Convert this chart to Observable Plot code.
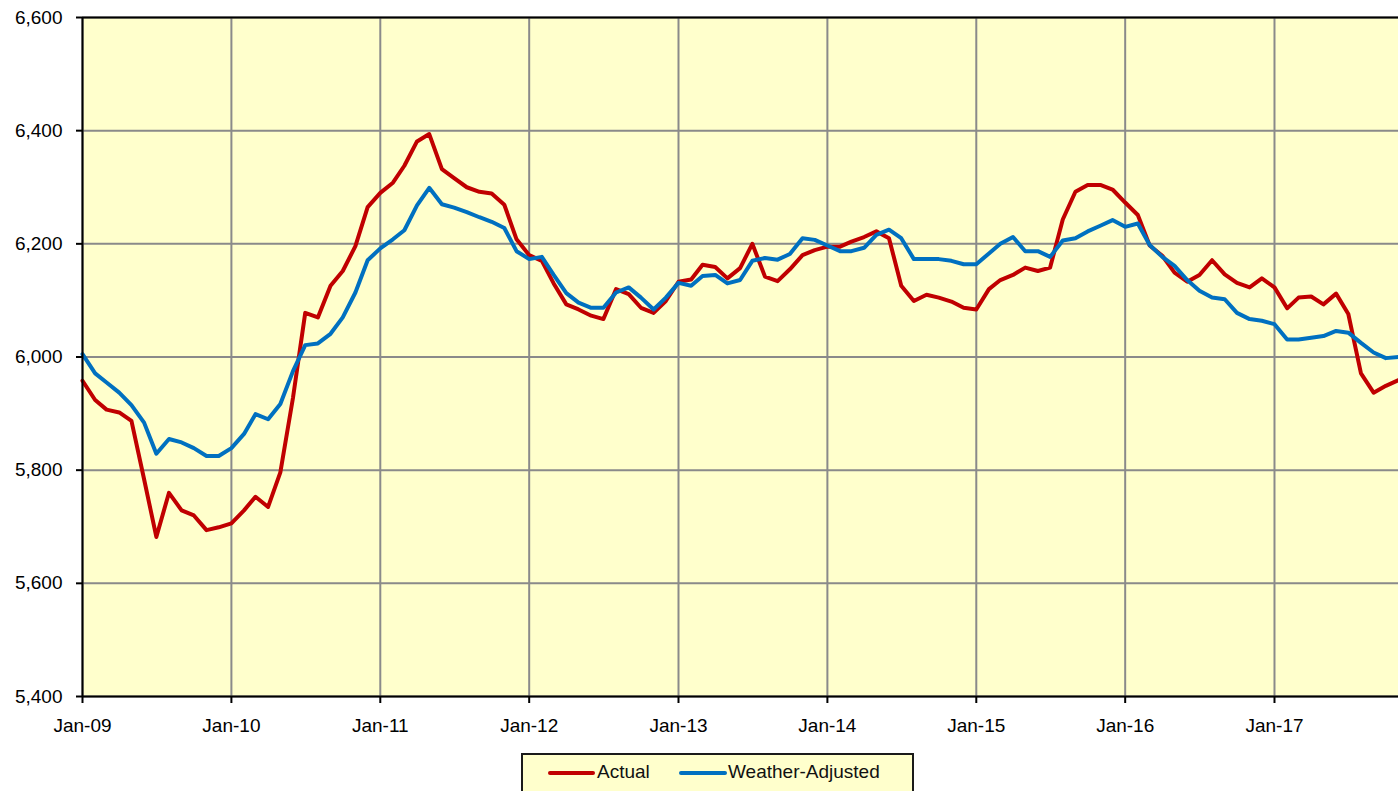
<!DOCTYPE html>
<html><head><meta charset="utf-8">
<script src="https://cdn.jsdelivr.net/npm/d3@7"></script>
<script src="https://cdn.jsdelivr.net/npm/@observablehq/plot@0.6"></script>
<style>
html,body{margin:0;padding:0;background:#fff;overflow:hidden;width:1398px;height:791px;}
#chart{position:absolute;left:0;top:0;}
#legend{position:absolute;left:521px;top:753px;width:393px;height:50px;box-sizing:border-box;border:2px solid #1a1a1a;background:#FFFFCC;font-family:"Liberation Sans",Arial,sans-serif;font-size:19px;color:#111;}
#legend .sw{position:absolute;top:16px;height:4px;border-radius:2px;}
#legend .tx{position:absolute;top:6px;line-height:22px;white-space:nowrap;}
</style></head><body>
<div id="chart"></div>
<div id="legend">
  <div class="sw" style="left:25px;width:47px;background:#C00000"></div>
  <div class="tx" style="left:74px">Actual</div>
  <div class="sw" style="left:156px;width:48px;background:#0070C0"></div>
  <div class="tx" style="left:205px">Weather-Adjusted</div>
</div>
<script>
// Monthly series, Jan-09 .. Nov-17
const actual = [
  5958, 5924, 5907, 5902, 5887, 5784, 5682, 5760, 5729, 5720, 5694, 5699,
  5706, 5729, 5753, 5735, 5796, 5928, 6078, 6070, 6126, 6152, 6196, 6265,
  6290, 6308, 6338, 6381, 6394, 6332, 6316, 6300, 6292, 6289, 6269, 6208,
  6180, 6170, 6130, 6093, 6084, 6073, 6067, 6120, 6111, 6087, 6078, 6099,
  6133, 6137, 6163, 6159, 6139, 6157, 6200, 6142, 6134, 6155, 6180, 6189,
  6195, 6195, 6204, 6212, 6222, 6210, 6126, 6099, 6110, 6105, 6098, 6087,
  6084, 6120, 6136, 6145, 6158, 6152, 6158, 6243, 6292, 6304, 6304, 6296,
  6273, 6251, 6197, 6179, 6149, 6133, 6145, 6171, 6146, 6131, 6123, 6139,
  6123, 6086, 6105, 6107, 6093, 6112, 6076, 5971, 5937, 5949, 5959
];
const weatherAdjusted = [
  6005, 5971, 5955, 5937, 5915, 5884, 5829, 5855, 5849, 5839, 5825, 5825,
  5839, 5864, 5899, 5890, 5917, 5975, 6021, 6024, 6041, 6070, 6114, 6171,
  6192, 6208, 6224, 6268, 6299, 6270, 6264, 6256, 6247, 6239, 6228, 6187,
  6173, 6177, 6145, 6113, 6096, 6087, 6087, 6114, 6123, 6105, 6084, 6105,
  6131, 6126, 6143, 6145, 6130, 6136, 6170, 6175, 6172, 6182, 6210, 6207,
  6197, 6187, 6187, 6193, 6216, 6225, 6210, 6173, 6173, 6173, 6170, 6164,
  6164, 6183, 6200, 6212, 6187, 6187, 6177, 6206, 6210, 6222, 6232, 6242,
  6230, 6236, 6198, 6177, 6161, 6136, 6117, 6105, 6102, 6078, 6067, 6064,
  6058, 6031, 6031, 6034, 6037, 6046, 6043, 6025, 6008, 5998, 6000
];
const seriesNames = ["Actual", "Weather-Adjusted"];
const seriesColors = ["#C00000", "#0070C0"];
const yTicks = [5400, 5600, 5800, 6000, 6200, 6400, 6600];
const xTickYears = [2009, 2010, 2011, 2012, 2013, 2014, 2015, 2016, 2017];

const start = new Date(Date.UTC(2009, 0, 1));
const end = new Date(Date.UTC(2017, 10, 1));
const months = d3.utcMonth.range(start, new Date(Date.UTC(2017, 11, 1)));
const xTicks = xTickYears.map(y => new Date(Date.UTC(y, 0, 1)));

const rows = [];
[actual, weatherAdjusted].forEach((arr, si) => {
  arr.forEach((v, i) => rows.push({date: months[i], value: v, series: seriesNames[si]}));
});

const fmtX = d3.utcFormat("%b-%y");

const chart = Plot.plot({
  width: 1398,
  height: 750,
  marginLeft: 82,
  marginRight: 0,
  marginTop: 17,
  marginBottom: 54,
  style: {fontFamily: "'Liberation Sans', Arial, sans-serif", fontSize: "19px", color: "#000", background: "transparent", overflow: "visible"},
  x: {type: "utc", domain: [start, end], label: null},
  y: {domain: [5400, 6600], label: null},
  color: {domain: seriesNames, range: seriesColors},
  marks: [
    Plot.frame({fill: "#FFFFCC", stroke: "none"}),
    Plot.ruleX(xTicks, {stroke: "#8a8a8a", strokeWidth: 2}),
    Plot.ruleY(yTicks, {stroke: "#8a8a8a", strokeWidth: 2}),
    Plot.line(rows, {x: "date", y: "value", z: "series", stroke: "series", strokeWidth: 4, strokeLinejoin: "round", strokeLinecap: "round"}),
    Plot.ruleY([5400, 6600], {stroke: "#000", strokeWidth: 2}),
    Plot.ruleX([start], {stroke: "#000", strokeWidth: 2}),
    Plot.axisY({ticks: yTicks, label: null, tickSize: 6, tickPadding: 14, tickFormat: d3.format(","), strokeWidth: 2, stroke: "#000", fill: "#000"}),
    Plot.axisX({ticks: xTicks, label: null, tickSize: 7, tickPadding: 15, tickFormat: fmtX, strokeWidth: 2, stroke: "#000", fill: "#000"})
  ]
});
document.getElementById("chart").appendChild(chart);
</script>
</body></html>
